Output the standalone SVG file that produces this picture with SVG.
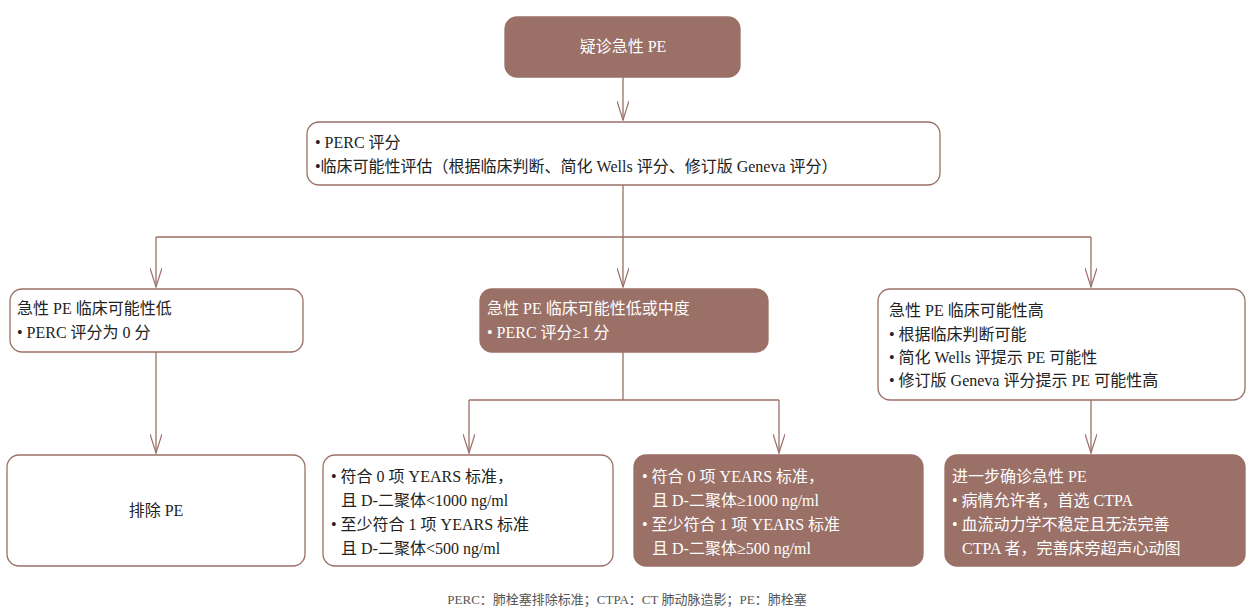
<svg xmlns="http://www.w3.org/2000/svg" width="1254" height="610" viewBox="0 0 1254 610">
<style>
text{font-family:"Liberation Serif","Noto Sans CJK SC",serif;font-size:16px;fill:#222}
.f{fill:#9a7067;stroke:#9a7067;stroke-width:1.3}
.w{fill:#fff;stroke:#9a7067;stroke-width:1.3}
.lt{fill:#fff}
.c{fill:none;stroke:#9a7067;stroke-width:1.3}
.cap{font-size:13px;fill:#555}
</style>
<defs><marker id="a" markerWidth="20" markerHeight="12" refX="19" refY="6" orient="auto" markerUnits="userSpaceOnUse"><path d="M0,0 L19,6 L0,12" fill="none" stroke="#9a7067" stroke-width="1.2"/></marker></defs>
<g id="connectors">
<path class="c" d="M623,77 V120" marker-end="url(#a)"/>
<path class="c" d="M623,185 V237 M156,237 H1091"/>
<path class="c" d="M156,237 V287" marker-end="url(#a)"/>
<path class="c" d="M623,237 V287" marker-end="url(#a)"/>
<path class="c" d="M1091,237 V287" marker-end="url(#a)"/>
<path class="c" d="M156,352 V453" marker-end="url(#a)"/>
<path class="c" d="M623,352 V400 M469,400 H779"/>
<path class="c" d="M469,400 V453" marker-end="url(#a)"/>
<path class="c" d="M779,400 V453" marker-end="url(#a)"/>
<path class="c" d="M1091,400 V453" marker-end="url(#a)"/>
</g>
<g id="n1"><rect class="f" x="505" y="17" width="235" height="60" rx="12"/><text class="lt" x="623" y="52" text-anchor="middle">疑诊急性 PE</text></g>
<g id="n2"><rect class="w" x="307" y="122" width="633" height="63" rx="12"/><text x="315" y="148">• PERC 评分</text><text x="315" y="172">•临床可能性评估（根据临床判断、简化 Wells 评分、修订版 Geneva 评分）</text></g>
<g id="n3"><rect class="w" x="10" y="289" width="293" height="63" rx="12"/><text x="17" y="314">急性 PE 临床可能性低</text><text x="17" y="338">• PERC 评分为 0 分</text></g>
<g id="n4"><rect class="f" x="480" y="289" width="288" height="63" rx="12"/><text class="lt" x="487" y="314">急性 PE 临床可能性低或中度</text><text class="lt" x="487" y="338">• PERC 评分≥1 分</text></g>
<g id="n5"><rect class="w" x="878" y="289" width="367" height="111" rx="12"/><text x="889" y="316">急性 PE 临床可能性高</text><text x="889" y="340">• 根据临床判断可能</text><text x="889" y="363">• 简化 Wells 评提示 PE 可能性</text><text x="889" y="386">• 修订版 Geneva 评分提示 PE 可能性高</text></g>
<g id="n6"><rect class="w" x="7" y="455" width="298" height="111" rx="12"/><text x="156" y="516" text-anchor="middle">排除 PE</text></g>
<g id="n7"><rect class="w" x="323" y="455" width="290" height="111" rx="12"/><text x="331" y="482">• 符合 0 项 YEARS 标准，</text><text x="341" y="506">且 D-二聚体&lt;1000 ng/ml</text><text x="331" y="530">• 至少符合 1 项 YEARS 标准</text><text x="341" y="554">且 D-二聚体&lt;500 ng/ml</text></g>
<g id="n8"><rect class="f" x="634" y="455" width="289" height="111" rx="12"/><text class="lt" x="642" y="482">• 符合 0 项 YEARS 标准，</text><text class="lt" x="652" y="506">且 D-二聚体≥1000 ng/ml</text><text class="lt" x="642" y="530">• 至少符合 1 项 YEARS 标准</text><text class="lt" x="652" y="554">且 D-二聚体≥500 ng/ml</text></g>
<g id="n9"><rect class="f" x="945" y="455" width="300" height="111" rx="12"/><text class="lt" x="952" y="482">进一步确诊急性 PE</text><text class="lt" x="952" y="506">• 病情允许者，首选 CTPA</text><text class="lt" x="952" y="530">• 血流动力学不稳定且无法完善</text><text class="lt" x="962" y="554">CTPA 者，完善床旁超声心动图</text></g>
<text class="cap" x="627" y="604" text-anchor="middle">PERC：肺栓塞排除标准；CTPA：CT 肺动脉造影；PE：肺栓塞</text>
</svg>
